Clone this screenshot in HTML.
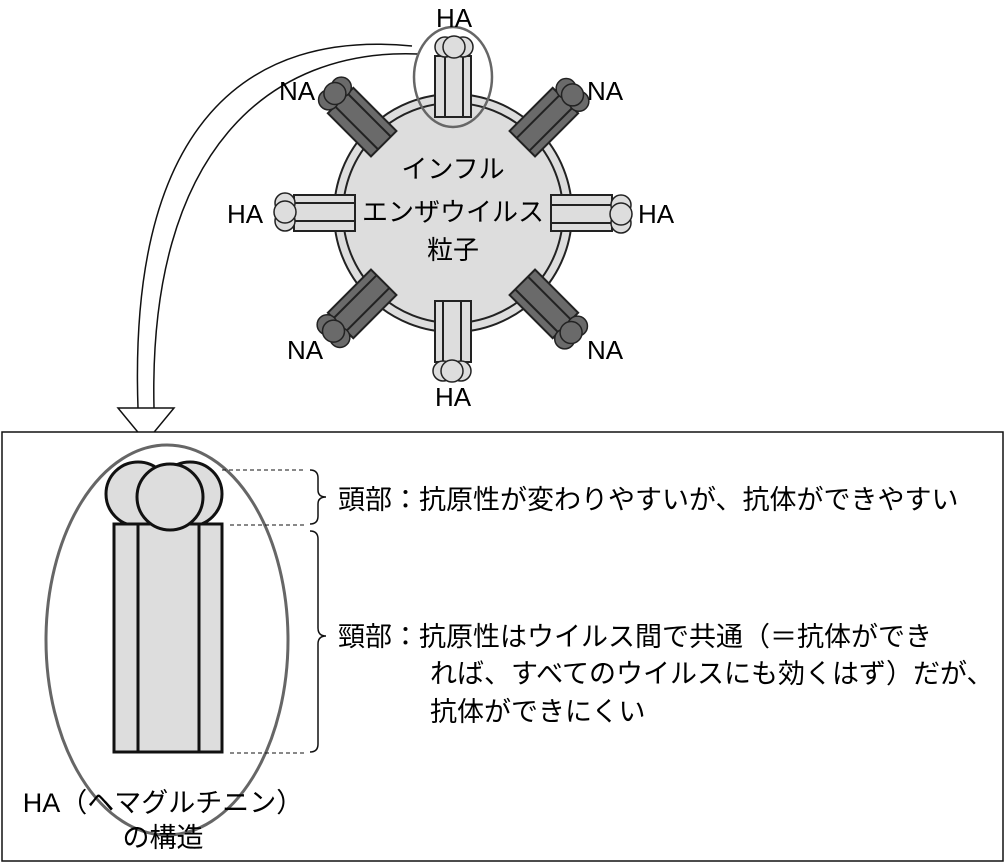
<!DOCTYPE html>
<html><head><meta charset="utf-8"><style>
html,body{margin:0;padding:0;background:#fff;}
svg{display:block;}
text{font-family:"Liberation Sans","Noto Sans CJK JP",sans-serif;fill:#000;}
</style></head><body>
<svg width="1005" height="863" viewBox="0 0 1005 863" xmlns="http://www.w3.org/2000/svg">
<defs>
<g id="ha">
  <rect x="-18" y="-159" width="36" height="61" fill="#ddd" stroke="#222" stroke-width="2"/>
  <line x1="-8" y1="-159" x2="-8" y2="-98" stroke="#222" stroke-width="2"/>
  <line x1="10" y1="-159" x2="10" y2="-98" stroke="#222" stroke-width="2"/>
  <circle cx="-8" cy="-168" r="10" fill="#ddd" stroke="#222" stroke-width="1.5"/>
  <circle cx="10" cy="-168" r="10" fill="#ddd" stroke="#222" stroke-width="1.5"/>
  <circle cx="1" cy="-168" r="11" fill="#ddd" stroke="#222" stroke-width="1.5"/>
</g>
<g id="na">
  <rect x="-18" y="-159" width="36" height="61" fill="#6a6a6a" stroke="#222" stroke-width="2"/>
  <line x1="-8" y1="-159" x2="-8" y2="-98" stroke="#222" stroke-width="2"/>
  <line x1="10" y1="-159" x2="10" y2="-98" stroke="#222" stroke-width="2"/>
  <circle cx="-8" cy="-168" r="10" fill="#6a6a6a" stroke="#222" stroke-width="1.5"/>
  <circle cx="10" cy="-168" r="10" fill="#6a6a6a" stroke="#222" stroke-width="1.5"/>
  <circle cx="1" cy="-168" r="11" fill="#6a6a6a" stroke="#222" stroke-width="1.5"/>
</g>
</defs>

<path d="M412,46 C250,30 128,120 138,408" fill="none" stroke="#111" stroke-width="1.5"/>
<path d="M418,54 C270,48 148,150 154,408" fill="none" stroke="#111" stroke-width="1.5"/>
<polygon points="118,408 174,408 146,442" fill="#fff" stroke="#111" stroke-width="1.5"/>

<g transform="translate(453,213)">
  <circle r="119" fill="#ddd" stroke="#222" stroke-width="2"/>
  <circle r="110" fill="#ddd" stroke="#222" stroke-width="2"/>
  <use href="#ha" transform="translate(0,2)"/>
  <use href="#ha" transform="rotate(90)"/>
  <use href="#ha" transform="translate(0,-10) rotate(180)"/>
  <use href="#ha" transform="rotate(270)"/>
  <use href="#na" transform="rotate(45)"/>
  <use href="#na" transform="rotate(135)"/>
  <use href="#na" transform="rotate(225)"/>
  <use href="#na" transform="rotate(315)"/>
  <ellipse cx="0" cy="-136" rx="39" ry="50" fill="none" stroke="#666" stroke-width="2.5"/>
  <text x="0" y="-35" font-size="26" text-anchor="middle">インフル</text>
  <text x="0" y="8" font-size="26" text-anchor="middle">エンザウイルス</text>
  <text x="0" y="46" font-size="26" text-anchor="middle">粒子</text>
</g>
<g font-size="26">
<text x="454" y="27" text-anchor="middle">HA</text>
<text x="297" y="100" text-anchor="middle">NA</text>
<text x="605" y="100" text-anchor="middle">NA</text>
<text x="245" y="223" text-anchor="middle">HA</text>
<text x="656" y="223" text-anchor="middle">HA</text>
<text x="305" y="359" text-anchor="middle">NA</text>
<text x="605" y="359" text-anchor="middle">NA</text>
<text x="453" y="406" text-anchor="middle">HA</text>
</g>

<rect x="2" y="432" width="1001" height="429" fill="#fff" stroke="#111" stroke-width="1.5"/>

<circle cx="138" cy="494" r="32" fill="#ddd" stroke="#111" stroke-width="3"/>
<circle cx="190" cy="494" r="32" fill="#ddd" stroke="#111" stroke-width="3"/>
<rect x="114" y="524" width="108" height="228" fill="#ddd" stroke="#111" stroke-width="3"/>
<line x1="138" y1="524" x2="138" y2="752" stroke="#111" stroke-width="3"/>
<line x1="199" y1="524" x2="199" y2="752" stroke="#111" stroke-width="3"/>
<circle cx="170" cy="497" r="33" fill="#ddd" stroke="#111" stroke-width="3"/>
<ellipse cx="167" cy="640" rx="121" ry="195" fill="none" stroke="#666" stroke-width="3"/>

<g stroke="#111" stroke-width="1" stroke-dasharray="4,3">
<line x1="222" y1="470" x2="305" y2="470"/>
<line x1="230" y1="525" x2="305" y2="525"/>
<line x1="230" y1="753" x2="305" y2="753"/>
</g>
<path d="M310,470 Q318,470 318,478 L318,490 Q318,497 326,497 Q318,497 318,504 L318,516 Q318,524 310,524" fill="none" stroke="#111" stroke-width="1.5"/>
<path d="M310,531 Q318,531 318,539 L318,628 Q318,636 326,636 Q318,636 318,644 L318,744 Q318,752 310,752" fill="none" stroke="#111" stroke-width="1.5"/>

<g font-size="27">
<text x="338" y="509">頭部：抗原性が変わりやすいが、抗体ができやすい</text>
<text x="338" y="646">頸部：抗原性はウイルス間で共通（＝抗体ができ</text>
<text x="430" y="683">れば、すべてのウイルスにも効くはず）だが、</text>
<text x="430" y="721">抗体ができにくい</text>
<text x="163" y="812" text-anchor="middle">HA（ヘマグルチニン）</text>
<text x="163" y="847" text-anchor="middle">の構造</text>
</g>
</svg>
</body></html>
